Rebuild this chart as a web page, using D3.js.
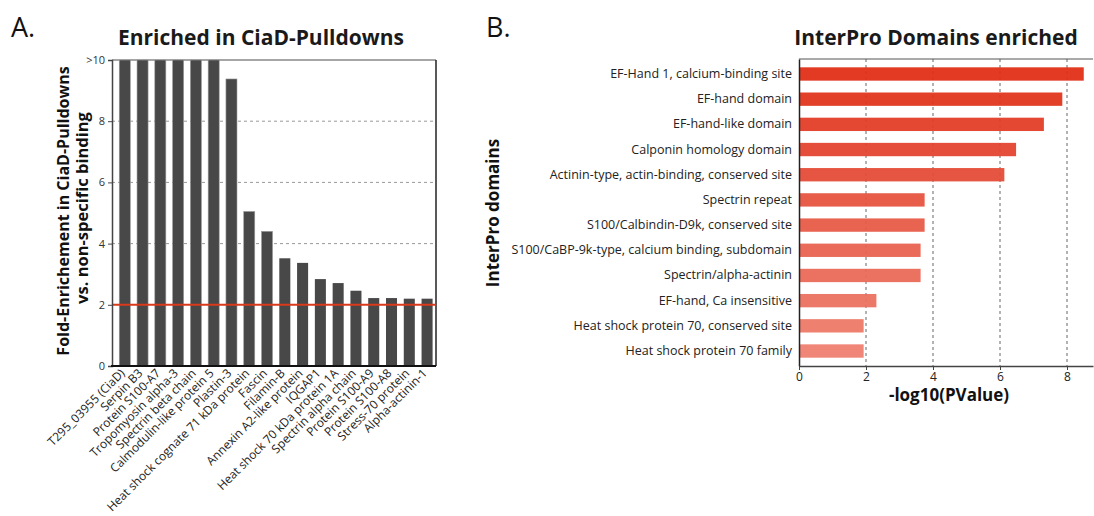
<!DOCTYPE html>
<html>
<head>
<meta charset="utf-8">
<script src="https://cdn.jsdelivr.net/npm/d3@7"></script>
<style>
    body { margin: 0; background: #fff; }
    text { font-family: "Open Sans", "Noto Sans", sans-serif; }
</style>
</head>
<body>
<div id="chart"></div>
<script>
var Width = 1094;
var Height = 516;

// Panel A data
var proteins = ["T295_03955 (CiaD)", "Serpin B3", "Protein S100-A7", "Tropomyosin alpha-3",
    "Spectrin beta chain", "Calmodulin-like protein 5", "Plastin-3",
    "Heat shock cognate 71 kDa protein", "Fascin", "Filamin-B", "Annexin A2-like protein",
    "IQGAP1", "Heat shock 70 kDa protein 1A", "Spectrin alpha chain", "Protein S100-A9",
    "Protein S100-A8", "Stress-70 protein", "Alpha-actinin-1"];
var enrichment = [10, 10, 10, 10, 10, 10, 9.38, 5.05, 4.40, 3.52, 3.37, 2.84, 2.71, 2.46, 2.22, 2.22, 2.20, 2.20];
var enrichTicks = [0, 2, 4, 6, 8, 10];
var threshold = 2;

// Panel B data
var domains = ["EF-Hand 1, calcium-binding site", "EF-hand domain", "EF-hand-like domain",
    "Calponin homology domain", "Actinin-type, actin-binding, conserved site", "Spectrin repeat",
    "S100/Calbindin-D9k, conserved site", "S100/CaBP-9k-type, calcium binding, subdomain",
    "Spectrin/alpha-actinin", "EF-hand, Ca insensitive", "Heat shock protein 70, conserved site",
    "Heat shock protein 70 family"];
var pvalues = [8.50, 7.86, 7.31, 6.48, 6.13, 3.75, 3.75, 3.63, 3.63, 2.31, 1.93, 1.93];
var pTicks = [0, 2, 4, 6, 8];

var svg = d3.select("#chart")
    .append("svg")
    .attr("width", Width)
    .attr("height", Height);

/*
 * Panel A: vertical bars
 */
var A = { left: 112, right: 436, top: 60, bottom: 366 };

svg.append("text")
    .attr("x", 11).attr("y", 37)
    .style("font-size", "27px")
    .style("fill", "#111")
    .text("A.");

svg.append("text")
    .attr("x", 261).attr("y", 45)
    .attr("text-anchor", "middle")
    .style("font-size", "21px")
    .style("font-weight", "bold")
    .style("fill", "#1a1a1a")
    .text("Enriched in CiaD-Pulldowns");

var xA = d3.scaleBand()
    .domain(proteins)
    .range([A.left, A.right])
    .paddingInner(0.38)
    .paddingOuter(0.3)
    .align(0.68);

var yA = d3.scaleLinear()
    .domain([0, 10])
    .range([A.bottom, A.top]);

// grid lines
svg.append("g")
    .selectAll("line")
    .data([4, 6, 8])
    .enter()
    .append("line")
    .attr("x1", A.left).attr("x2", A.right)
    .attr("y1", function(d) { return yA(d); })
    .attr("y2", function(d) { return yA(d); })
    .attr("stroke", "#999")
    .attr("stroke-dasharray", "3,3");

// top and right frame
svg.append("line")
    .attr("x1", A.left).attr("x2", A.right)
    .attr("y1", A.top).attr("y2", A.top)
    .attr("stroke", "#888").attr("stroke-width", 1.5);
svg.append("line")
    .attr("x1", A.right).attr("x2", A.right)
    .attr("y1", A.top).attr("y2", A.bottom)
    .attr("stroke", "#222").attr("stroke-width", 1.5);

svg.append("g")
    .selectAll("rect")
    .data(enrichment)
    .enter()
    .append("rect")
    .attr("x", function(d, i) { return xA(proteins[i]); })
    .attr("y", function(d) { return yA(d); })
    .attr("width", xA.bandwidth())
    .attr("height", function(d) { return A.bottom - yA(d); })
    .attr("fill", "#484848")
    .attr("stroke", function(d, i) { return i < 9 ? "#9a9a9a" : "none"; })
    .attr("stroke-width", 0.6);

// threshold line
svg.append("line")
    .attr("x1", A.left).attr("x2", A.right)
    .attr("y1", yA(threshold)).attr("y2", yA(threshold))
    .attr("stroke", "#d93a1c")
    .attr("stroke-width", 2);

// Left axis
var axisA = svg.append("g")
    .attr("transform", "translate(" + A.left + ",0)")
    .call(d3.axisLeft(yA)
        .tickValues(enrichTicks)
        .tickSize(4)
        .tickFormat(function(d) { return d === 10 ? ">10" : d; }));
axisA.select(".domain").attr("stroke", "#444").attr("stroke-width", 1.5);
axisA.selectAll(".tick line").attr("stroke", "#444");
axisA.selectAll("text")
    .style("font-size", "11px")
    .style("fill", "#333")
    .attr("x", -7);

// Bottom axis, labels rotated so they end under each bar
var axisAx = svg.append("g")
    .attr("transform", "translate(0," + A.bottom + ")")
    .call(d3.axisBottom(xA).tickSize(0).tickSizeOuter(0));
axisAx.select(".domain")
    .attr("d", "M" + (A.left - 1) + ",0H" + A.right)
    .attr("stroke", "#111").attr("stroke-width", 1.8);
axisAx.selectAll("text")
    .style("font-size", "12px")
    .style("fill", "#222")
    .style("text-anchor", "end")
    .attr("x", -5)
    .attr("y", 2)
    .attr("dy", "0.35em")
    .attr("transform", "rotate(-45)");

// Y title (two lines)
svg.append("text")
    .attr("transform", "translate(69,211) rotate(-90)")
    .attr("text-anchor", "middle")
    .style("font-size", "16px")
    .style("font-weight", "bold")
    .style("fill", "#111")
    .text("Fold-Enrichement in CiaD-Pulldowns");
svg.append("text")
    .attr("transform", "translate(88,208) rotate(-90)")
    .attr("text-anchor", "middle")
    .style("font-size", "16.5px")
    .style("font-weight", "bold")
    .style("fill", "#111")
    .text("vs. non-specific binding");

/*
 * Panel B: horizontal bars
 */
var B = { left: 799, right: 1093, top: 59, bottom: 366 };

svg.append("text")
    .attr("x", 486).attr("y", 37)
    .style("font-size", "27px")
    .style("fill", "#111")
    .text("B.");

svg.append("text")
    .attr("x", 936).attr("y", 45)
    .attr("text-anchor", "middle")
    .style("font-size", "21px")
    .style("font-weight", "bold")
    .style("fill", "#1a1a1a")
    .text("InterPro Domains enriched");

var xB = d3.scaleLinear()
    .domain([0, (B.right - B.left) / 33.5])
    .range([B.left, B.right]);

var yB = d3.scaleBand()
    .domain(domains)
    .range([B.top, B.bottom])
    .paddingInner(0.47)
    .paddingOuter(0.33);

var colorB = d3.scaleLinear()
    .domain([0, domains.length - 1])
    .range(["#e02f17", "#ee8070"]);

svg.append("g")
    .selectAll("line")
    .data(pTicks.slice(1))
    .enter()
    .append("line")
    .attr("x1", function(d) { return xB(d); })
    .attr("x2", function(d) { return xB(d); })
    .attr("y1", B.top).attr("y2", B.bottom)
    .attr("stroke", "#666")
    .attr("stroke-dasharray", "3,3");

svg.append("line")
    .attr("x1", B.left).attr("x2", B.right)
    .attr("y1", B.top).attr("y2", B.top)
    .attr("stroke", "#555").attr("stroke-width", 1.2);

svg.append("g")
    .selectAll("rect")
    .data(pvalues)
    .enter()
    .append("rect")
    .attr("x", B.left)
    .attr("y", function(d, i) { return yB(domains[i]); })
    .attr("width", function(d) { return xB(d) - B.left; })
    .attr("height", yB.bandwidth())
    .attr("fill", function(d, i) { return colorB(i); })
    .attr("fill-opacity", 0.95);

var axisBy = svg.append("g")
    .attr("transform", "translate(" + B.left + ",0)")
    .call(d3.axisLeft(yB).tickSize(0).tickSizeOuter(0));
axisBy.select(".domain").attr("stroke", "#222").attr("stroke-width", 1.5);
axisBy.selectAll("text")
    .style("font-size", "12.5px")
    .style("fill", "#222")
    .attr("x", -7);

var axisBx = svg.append("g")
    .attr("transform", "translate(0," + B.bottom + ")")
    .call(d3.axisBottom(xB).tickValues(pTicks).tickSize(4).tickSizeOuter(0));
axisBx.select(".domain").attr("stroke", "#444").attr("stroke-width", 1.5);
axisBx.selectAll(".tick line").attr("stroke", "#444");
axisBx.selectAll("text")
    .style("font-size", "12px")
    .style("fill", "#222")
    .attr("y", 6);

svg.append("text")
    .attr("x", 949).attr("y", 401)
    .attr("text-anchor", "middle")
    .style("font-size", "17px")
    .style("font-weight", "bold")
    .style("fill", "#111")
    .text("-log10(PValue)");

svg.append("text")
    .attr("transform", "translate(499,213) rotate(-90)")
    .attr("text-anchor", "middle")
    .style("font-size", "17px")
    .style("font-weight", "bold")
    .style("fill", "#111")
    .text("InterPro domains");
</script>
</body>
</html>
